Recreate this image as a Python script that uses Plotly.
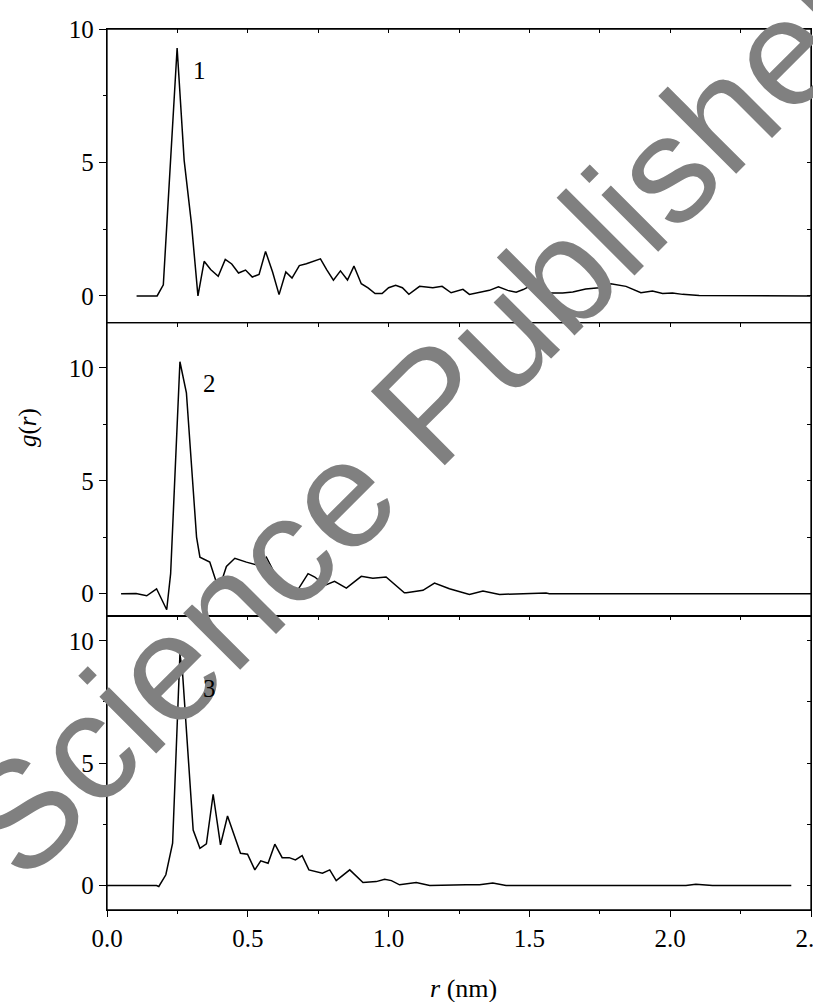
import plotly.graph_objects as go

# ---- data ----
r1 = [0.105, 0.141, 0.178, 0.200, 0.249, 0.274, 0.300, 0.323, 0.345, 0.368, 0.395, 0.420, 0.443,
      0.467, 0.492, 0.516, 0.540, 0.563, 0.588, 0.611, 0.635, 0.657, 0.683, 0.708, 0.733, 0.758,
      0.780, 0.804, 0.829, 0.854, 0.877, 0.903, 0.927, 0.952, 0.977, 1.000, 1.025, 1.049, 1.072,
      1.110, 1.157, 1.190, 1.222, 1.264, 1.287, 1.323, 1.358, 1.390, 1.423, 1.453, 1.478, 1.502,
      1.529, 1.570, 1.618, 1.654, 1.700, 1.748, 1.789, 1.843, 1.896, 1.937, 1.973, 2.008, 2.044,
      2.103, 2.221, 2.280, 2.340, 2.497]
g1 = [0.00, 0.00, 0.00, 0.42, 9.29, 5.08, 2.70, 0.00, 1.30, 0.99, 0.74, 1.37, 1.20,
      0.86, 0.97, 0.71, 0.81, 1.67, 0.90, 0.05, 0.90, 0.67, 1.14, 1.21, 1.29, 1.39,
      0.99, 0.59, 0.94, 0.60, 1.12, 0.46, 0.30, 0.09, 0.09, 0.31, 0.40, 0.31, 0.06,
      0.36, 0.31, 0.36, 0.12, 0.25, 0.06, 0.14, 0.21, 0.34, 0.21, 0.14, 0.24, 0.37,
      0.19, 0.11, 0.11, 0.15, 0.26, 0.31, 0.46, 0.36, 0.12, 0.19, 0.09, 0.11, 0.06,
      0.02, 0.02, 0.00, 0.00, 0.00]

r2 = [0.050, 0.103, 0.141, 0.176, 0.212, 0.226, 0.259, 0.282, 0.318, 0.330, 0.365, 0.397, 0.424,
      0.454, 0.495, 0.537, 0.566, 0.602, 0.637, 0.663, 0.714, 0.738, 0.773, 0.808, 0.850, 0.903,
      0.944, 0.991, 1.056, 1.063, 1.122, 1.163, 1.216, 1.287, 1.335, 1.394, 1.559, 1.571, 2.500]
g2 = [0.00, 0.01, -0.09, 0.22, -0.71, 0.89, 10.27, 8.89, 2.51, 1.62, 1.40, 0.18, 1.21,
      1.57, 1.40, 1.26, 1.62, 0.74, 0.00, -0.12, 0.89, 0.74, 0.37, 0.55, 0.25, 0.77,
      0.69, 0.74, 0.04, 0.04, 0.15, 0.47, 0.22, -0.03, 0.12, -0.03, 0.03, 0.00, 0.00]

r3 = [0.000, 0.176, 0.184, 0.209, 0.233, 0.259, 0.268, 0.306, 0.330, 0.353, 0.377, 0.403, 0.428,
      0.474, 0.499, 0.525, 0.546, 0.572, 0.596, 0.622, 0.647, 0.669, 0.693, 0.717, 0.765, 0.791,
      0.814, 0.862, 0.909, 0.956, 0.986, 1.010, 1.039, 1.063, 1.098, 1.146, 1.216, 1.275, 1.323,
      1.370, 1.417, 2.056, 2.091, 2.150, 2.430]
g3 = [0.00, 0.00, -0.04, 0.44, 1.73, 9.46, 8.73, 2.27, 1.52, 1.70, 3.73, 1.66, 2.84,
      1.32, 1.28, 0.64, 1.01, 0.91, 1.69, 1.14, 1.14, 1.05, 1.22, 0.64, 0.50, 0.64,
      0.20, 0.64, 0.12, 0.16, 0.26, 0.20, 0.03, 0.07, 0.12, 0.00, 0.03, 0.03, 0.03,
      0.10, 0.00, 0.00, 0.05, 0.00, 0.00]

panel_labels = ["1", "2", "3"]
x_ticks = [0.0, 0.5, 1.0, 1.5, 2.0, 2.5]
x_ticktext = ["0.0", "0.5", "1.0", "1.5", "2.0", "2.5"]
y_ticks = [0, 5, 10]
y_ranges = [[-1, 10], [-1, 12], [-1, 11]]
x_range = [0, 2.5]

FONT = "Liberation Serif"
LINE = dict(color="black", width=1.5)
W, H = 813, 1002
ML, MR, MT, MB = 107, 2, 29, 92
PW, PH = W - ML - MR, H - MT - MB


def px2paper(px, py):
    return (px - ML) / PW, (H - MB - py) / PH


fig = go.Figure()
fig.add_trace(go.Scatter(x=r1, y=g1, mode="lines", line=LINE, xaxis="x", yaxis="y", showlegend=False))
fig.add_trace(go.Scatter(x=r2, y=g2, mode="lines", line=LINE, xaxis="x2", yaxis="y2", showlegend=False))
fig.add_trace(go.Scatter(x=r3, y=g3, mode="lines", line=LINE, xaxis="x3", yaxis="y3", showlegend=False))
# empty traces so the overlay (mirror) axes get drawn
for xa, ya in [("x4", "y3"), ("x", "y4"), ("x2", "y5"), ("x3", "y6")]:
    fig.add_trace(go.Scatter(x=[None], y=[None], mode="lines", xaxis=xa, yaxis=ya,
                             showlegend=False, hoverinfo="skip"))

doms = [[2/3, 1], [1/3, 2/3], [0, 1/3]]
common_ax = dict(showline=True, linecolor="black", linewidth=1.3, zeroline=False, showgrid=False,
                 tickcolor="black", tickwidth=1.2, automargin=False, fixedrange=True)
tickfont = dict(family=FONT, size=25, color="black")

layout = dict(
    template="none",
    width=W, height=H,
    margin=dict(l=ML, r=MR, t=MT, b=MB, autoexpand=False),
    plot_bgcolor="white", paper_bgcolor="white",
    showlegend=False,
)
layout["xaxis"] = dict(common_ax, domain=[0, 1], anchor="y", side="top", range=x_range,
                       ticks="inside", ticklen=4, tick0=0, dtick=0.25, showticklabels=False)
layout["xaxis2"] = dict(common_ax, domain=[0, 1], anchor="y2", side="top", range=x_range,
                        ticks="inside", ticklen=4, tick0=0, dtick=0.25, showticklabels=False)
layout["xaxis3"] = dict(common_ax, domain=[0, 1], anchor="y3", side="bottom", range=x_range,
                        ticks="outside", ticklen=6, tickmode="array", tickvals=x_ticks,
                        ticktext=x_ticktext, tickfont=tickfont, ticklabeloverflow="allow",
                        minor=dict(ticks="outside", ticklen=3, tick0=0, dtick=0.25,
                                   tickcolor="black", tickwidth=1.2))
layout["xaxis4"] = dict(common_ax, overlaying="x3", anchor="y3", side="top", range=x_range,
                        ticks="inside", ticklen=4, tick0=0, dtick=0.25, showticklabels=False)

for i in range(3):
    yk = "yaxis" if i == 0 else f"yaxis{i+1}"
    xk = "x" if i == 0 else f"x{i+1}"
    layout[yk] = dict(common_ax, domain=doms[i], anchor=xk, side="left", range=y_ranges[i],
                      ticks="outside", ticklen=7, tickmode="array", tickvals=y_ticks,
                      tickfont=tickfont,
                      minor=dict(ticks="outside", ticklen=3, tick0=0, dtick=2.5,
                                 tickcolor="black", tickwidth=1.2))
    ov = "y" if i == 0 else f"y{i+1}"
    layout[f"yaxis{i+4}"] = dict(common_ax, overlaying=ov, anchor=xk, side="right",
                                 range=y_ranges[i], ticks="inside", ticklen=4, tick0=0,
                                 dtick=2.5, showticklabels=False)

fig.update_layout(**layout)

# panel frames
for d in doms:
    fig.add_shape(type="rect", xref="paper", yref="paper", x0=0, x1=1, y0=d[0], y1=d[1],
                  line=dict(color="black", width=1.3), fillcolor="rgba(0,0,0,0)", layer="above")

ann = []
# watermark first so other labels draw above it
wx, wy = px2paper(443, 392)
ann.append(dict(text="Science Publishers", x=wx, y=wy, xref="paper", yref="paper",
                showarrow=False, textangle=-45, xanchor="center", yanchor="middle",
                font=dict(family="Liberation Sans", size=152, color="#808080")))
label_pos = [(199, 70), (209, 384), (209, 688)]
for lab, (px, py) in zip(panel_labels, label_pos):
    ax_, ay_ = px2paper(px, py)
    ann.append(dict(text=lab, x=ax_, y=ay_, xref="paper", yref="paper",
                    showarrow=False, xanchor="center", yanchor="middle",
                    font=dict(family=FONT, size=25, color="black")))
gx, gy = px2paper(28, 428)
ann.append(dict(text="<i>g</i>(<i>r</i>)", x=gx, y=gy, xref="paper", yref="paper",
                showarrow=False, textangle=-90, xanchor="center", yanchor="middle",
                font=dict(family=FONT, size=25, color="black")))
rx, ry = px2paper(463, 988)
ann.append(dict(text="<i>r</i> (nm)", x=rx, y=ry, xref="paper", yref="paper",
                showarrow=False, xanchor="center", yanchor="middle",
                font=dict(family=FONT, size=26, color="black")))
fig.update_layout(annotations=ann)

fig.write_html("out.html", config={"displayModeBar": False},
               post_script="document.body.style.margin='0';document.body.style.overflow='hidden';")
